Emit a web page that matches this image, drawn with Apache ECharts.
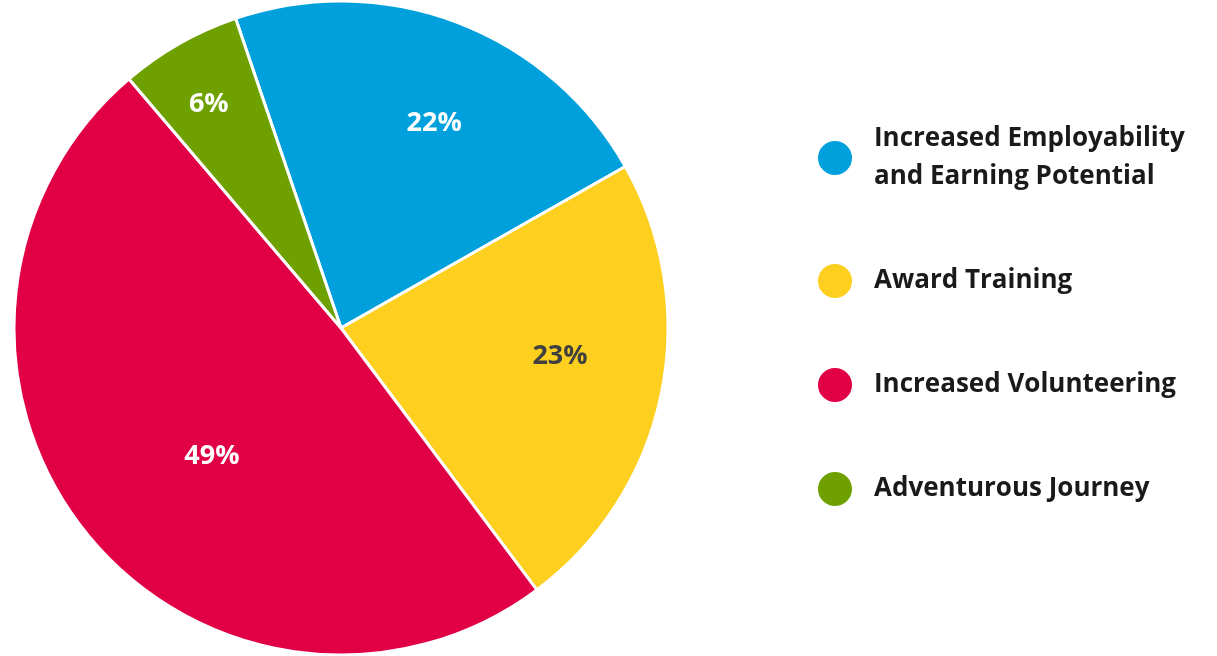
<!DOCTYPE html>
<html>
<head>
<meta charset="utf-8">
<script src="https://cdn.jsdelivr.net/npm/echarts@6/dist/echarts.min.js"></script>
<style>
html,body{margin:0;padding:0;background:#fff;}
#chart{width:1217px;height:656px;}
</style>
</head>
<body>
<div id="chart"></div>
<script>
const categories = ['Increased Employability\nand Earning Potential', 'Award Training', 'Increased Volunteering', 'Adventurous Journey'];
const values = [22, 23, 49, 6];
const colors = ['#00A0DC', '#FDCF1F', '#E10045', '#6EA100'];
const labelColors = ['#ffffff', '#404040', '#ffffff', '#ffffff'];
const labelNudge = [[34, -49], [56, -6], [1, 24], [-50, -79]];

const chart = echarts.init(document.getElementById('chart'));
chart.setOption({
  animation: false,
  legend: {
    orient: 'vertical',
    left: 811,
    top: 115,
    icon: 'circle',
    itemWidth: 36,
    itemHeight: 36,
    itemGap: 66,
    selectedMode: false,
    textStyle: {
      fontFamily: 'Open Sans',
      fontWeight: 'bold',
      fontSize: 26,
      lineHeight: 38,
      color: '#1a1a1a',
      padding: [0, 0, 0, 16]
    },
    data: categories
  },
  series: [{
    type: 'pie',
    center: [341, 328],
    radius: 327,
    startAngle: 108.8,
    clockwise: true,
    avoidLabelOverlap: false,
    itemStyle: { borderColor: '#ffffff', borderWidth: 3 },
    label: {
      position: 'inside',
      formatter: '{c}%',
      fontFamily: 'Open Sans',
      fontWeight: 'bold',
      fontSize: 27
    },
    labelLine: { show: false },
    labelLayout: function (p) {
      return { dx: labelNudge[p.dataIndex][0], dy: labelNudge[p.dataIndex][1] };
    },
    data: categories.map((n, i) => ({
      name: n,
      value: values[i],
      itemStyle: { color: colors[i] },
      label: { color: labelColors[i] }
    }))
  }]
});
</script>
</body>
</html>
